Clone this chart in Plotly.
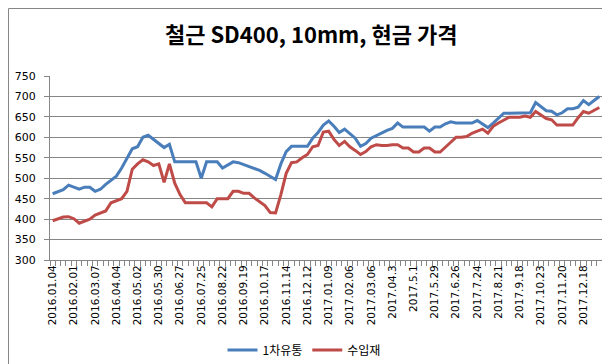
import plotly.graph_objects as go

title_text = "철근 SD400, 10mm, 현금 가격"
series_names = ["1차유통", "수입재"]

tick_labels = ["2016.01.04", "2016.02.01", "2016.03.07", "2016.04.04", "2016.05.02",
               "2016.05.30", "2016.06.27", "2016.07.25", "2016.08.22", "2016.09.19",
               "2016.10.17", "2016.11.14", "2016.12.12", "2017.01.09", "2017.02.06",
               "2017.03.06", "2017.04.3", "2017.5.1", "2017.5.29", "2017.6.26",
               "2017.7.24", "2017.8.21", "2017.9.18", "2017.10.23", "2017.11.20",
               "2017.12.18"]

domestic = [462, 467, 472, 483, 478, 473, 478, 478, 468, 473,
            485, 495, 505, 525, 548, 572, 577, 600, 605, 595,
            585, 575, 583, 540, 540, 540, 540, 540, 500, 540,
            540, 540, 525, 533, 540, 538, 533, 528, 524, 519,
            512, 505, 497, 535, 565, 578, 578, 578, 578, 598,
            612, 630, 640, 627, 612, 620, 610, 598, 578, 585,
            598, 605, 610, 617, 622, 635, 625, 625, 625, 625,
            625, 615, 625, 625, 633, 638, 635, 635, 635, 635,
            641, 633, 624, 635, 648, 659, 659, 659, 659, 659,
            660, 685, 675, 665, 664, 655, 660, 670, 670, 674,
            690, 680, 690, 700]

imported = [396, 400, 405, 406, 401, 390, 396, 400, 410, 416,
            420, 440, 445, 450, 468, 522, 535, 545, 540, 531,
            535, 490, 535, 488, 460, 440, 440, 440, 440, 440,
            430, 450, 450, 450, 468, 468, 463, 463, 452, 443,
            433, 416, 415, 460, 512, 538, 540, 550, 558, 577,
            580, 613, 615, 595, 580, 590, 577, 568, 558, 565,
            577, 582, 580, 580, 582, 582, 574, 574, 564, 564,
            574, 574, 564, 564, 575, 588, 600, 600, 602, 610,
            615, 620, 610, 627, 635, 641, 649, 649, 649, 652,
            649, 663, 655, 646, 643, 630, 630, 630, 630, 648,
            663, 659, 667, 673]

label_step = 4
n = len(domestic)
xs = list(range(n))
tickvals = [i * label_step for i in range(len(tick_labels))]
boundaries = [i - 0.5 for i in range(n + 1)]

W, H = 610, 364
L, R, T, B = 42, 16, 68, 112
pw, ph = W - L - R, H - T - B

fig = go.Figure()
fig.add_trace(go.Scatter(x=xs, y=domestic, mode="lines", name=series_names[0],
                         line=dict(color="#4A7EBB", width=3)))
fig.add_trace(go.Scatter(x=xs, y=imported, mode="lines", name=series_names[1],
                         line=dict(color="#BE4B48", width=3)))

axis_gray = "#868686"
fig.update_layout(
    width=W, height=H,
    margin=dict(l=L, r=R, t=T, b=B, autoexpand=False),
    paper_bgcolor="white", plot_bgcolor="white",
    title=dict(text=title_text, x=0.497, xanchor="center", y=1 - 27 / H, yanchor="middle",
               font=dict(family="Noto Sans CJK KR", size=22, color="black", weight="bold")),
    showlegend=True,
    legend=dict(orientation="h", x=(296 - L) / pw, xanchor="center",
                y=(T + ph - 342) / ph, yanchor="middle",
                font=dict(family="Noto Sans CJK KR", size=12, color="black"),
                itemwidth=30, tracegroupgap=0, bgcolor="rgba(0,0,0,0)"),
    xaxis=dict(range=[-0.5, n - 0.5], tickmode="array", tickvals=tickvals, ticktext=tick_labels,
               tickangle=-90, ticks="", showgrid=False, zeroline=False,
               showline=True, linecolor=axis_gray, linewidth=1,
               tickfont=dict(family="DejaVu Sans", size=10.5, color="black"),
               ticklabelstandoff=0, automargin=False,
               minor=dict(tickmode="array", tickvals=boundaries, ticks="outside",
                          ticklen=5, tickcolor=axis_gray, tickwidth=1, showgrid=False)),
    yaxis=dict(range=[300, 750], tickmode="linear", tick0=300, dtick=50,
               showgrid=True, gridcolor=axis_gray, gridwidth=1, zeroline=False,
               showline=True, linecolor=axis_gray, linewidth=1,
               ticks="outside", ticklen=5, tickcolor=axis_gray,
               tickfont=dict(family="DejaVu Sans", size=11, color="black"),
               ticklabelstandoff=6, automargin=False),
)

fig.add_shape(type="rect", xref="paper", yref="paper",
              x0=(0.5 - L) / pw, x1=(W - 0.5 - L) / pw,
              y0=(T + ph - (H - 0.5)) / ph, y1=(T + ph - 0.5) / ph,
              line=dict(color=axis_gray, width=1), fillcolor="rgba(0,0,0,0)", layer="above")

fig.write_html("out.html")
